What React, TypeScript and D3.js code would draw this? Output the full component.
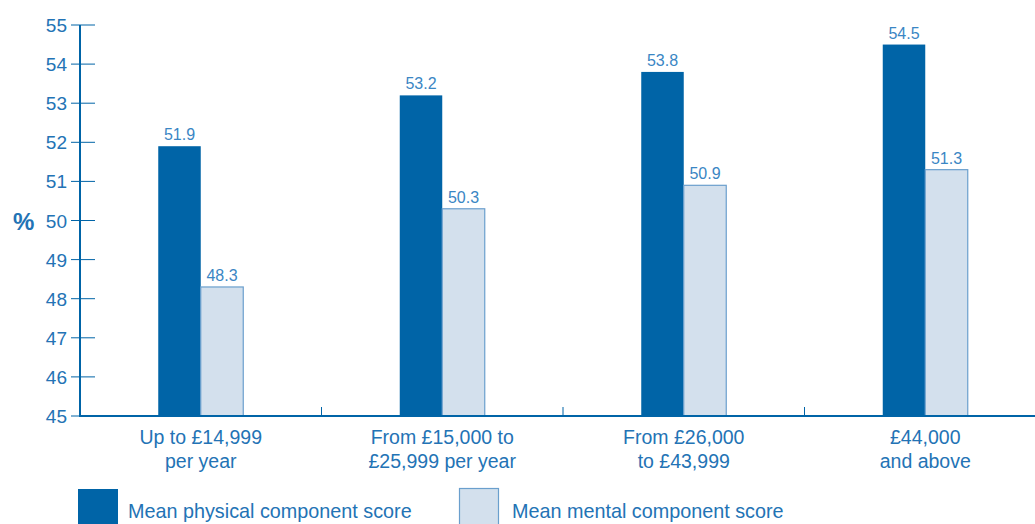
import React from "react";
import * as d3 from "d3";

const categories = [
  ["Up to £14,999", "per year"],
  ["From £15,000 to", "£25,999 per year"],
  ["From £26,000", "to £43,999"],
  ["£44,000", "and above"],
];
const physical = [51.9, 53.2, 53.8, 54.5];
const mental = [48.3, 50.3, 50.9, 51.3];
const yTicks = [45, 46, 47, 48, 49, 50, 51, 52, 53, 54, 55];
const seriesNames = ["Mean physical component score", "Mean mental component score"];

const DARK = "#0064a7";
const LIGHT = "#d3e0ed";
const LIGHT_STROKE = "#6a9fcd";
const TEXT = "#2373b5";
const LABEL = "#3a86c4";
const FONT = "'Liberation Sans', Arial, Helvetica, sans-serif";

export default function App() {
  const W = 1035, H = 524;
  const x = d3.scaleBand<number>().domain(d3.range(categories.length)).range([80, 1046]).paddingInner(0).paddingOuter(0);
  const y = d3.scaleLinear().domain([45, 55]).range([416, 25]);
  const barW = 42.5;
  const sep = d3.range(1, categories.length).map((i) => x(i)!);

  return (
    <svg width={W} height={H} style={{ position: "absolute", left: 0, top: 0, display: "block" }} fontFamily={FONT}>
      {/* bars */}
      {physical.map((v, i) => {
        const c = x(i)! + x.bandwidth() / 2;
        return (
          <g key={i}>
            <rect x={c - barW} y={y(v)} width={barW} height={y(45) - y(v)} fill={DARK} />
            <text x={c - barW / 2} y={y(v) - 6} textAnchor="middle" fontSize={16} fill={LABEL}>{v.toFixed(1)}</text>
            <rect x={c} y={y(mental[i])} width={barW} height={y(45) - y(mental[i])} fill={LIGHT} stroke={LIGHT_STROKE} strokeWidth={1.2} />
            <text x={c + barW / 2} y={y(mental[i]) - 6} textAnchor="middle" fontSize={16} fill={LABEL}>{mental[i].toFixed(1)}</text>
            {categories[i].map((line, j) => (
              <text key={j} x={c} y={444 + j * 24} textAnchor="middle" fontSize={19.5} fill={TEXT}>{line}</text>
            ))}
          </g>
        );
      })}
      {/* y axis */}
      <line x1={80} x2={80} y1={y(55)} y2={y(45)} stroke={DARK} strokeWidth={2} />
      {yTicks.map((t) => (
        <g key={t}>
          <line x1={71} x2={95} y1={y(t)} y2={y(t)} stroke={DARK} strokeWidth={1} />
          <text x={67} y={y(t) + 7} textAnchor="end" fontSize={19} fill={TEXT}>{t}</text>
        </g>
      ))}
      {/* x axis */}
      <line x1={79} x2={W} y1={y(45)} y2={y(45)} stroke={DARK} strokeWidth={2} />
      {sep.map((s, i) => (
        <line key={i} x1={s} x2={s} y1={y(45) - 9} y2={y(45)} stroke={DARK} strokeWidth={1} />
      ))}
      <text x={13} y={230} fontSize={24} fontWeight="bold" fill={TEXT}>%</text>
      {/* legend */}
      <rect x={78} y={489} width={40} height={40} fill={DARK} />
      <text x={128} y={518} fontSize={19.8} fill={TEXT}>{seriesNames[0]}</text>
      <rect x={459.5} y={488.5} width={39} height={40} fill={LIGHT} stroke={LIGHT_STROKE} strokeWidth={1.2} />
      <text x={512} y={518} fontSize={19.8} fill={TEXT}>{seriesNames[1]}</text>
    </svg>
  );
}
